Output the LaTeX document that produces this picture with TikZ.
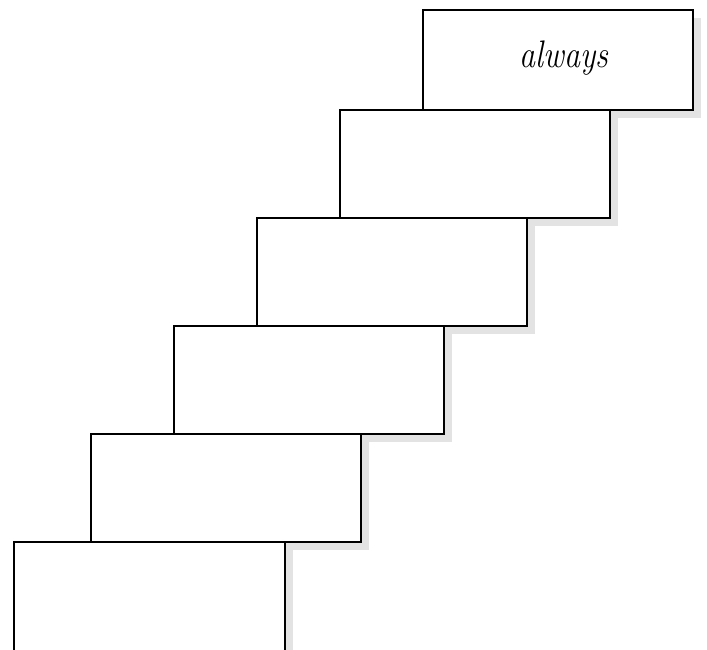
\documentclass[tikz,border=0pt]{standalone}
\begin{document}
\begin{tikzpicture}[x=1pt,y=-1pt,
  stepbox/.style={draw=black,line width=1.4pt,fill=white},
  stepshadow/.style={fill=black!11,draw=none}]
\useasboundingbox (0,0) rectangle (707,649);
\clip (0,0) rectangle (707,649);
\fill[white] (0,0) rectangle (707,649);
% shadows
\foreach \x/\y/\w/\h in {423/10/270/100, 340/110/270/108, 257/218/270/108, 174/326/270/108, 91/434/270/108, 14/542/271/120}{
  \path[stepshadow] (\x+8,\y+8) rectangle ++(\w,\h);
}
% boxes
\path[stepbox] (423,10) rectangle (693,110) node (b1) [midway] {};
\path[stepbox] (340,110) rectangle (610,218) node (b2) [midway] {};
\path[stepbox] (257,218) rectangle (527,326) node (b3) [midway] {};
\path[stepbox] (174,326) rectangle (444,434) node (b4) [midway] {};
\path[stepbox] (91,434) rectangle (361,542) node (b5) [midway] {};
\path[stepbox] (14,542) rectangle (285,662) node (b6) [midway] {};
\node[yscale=1.2] (t1) at (564,58) {\fontsize{32}{36}\selectfont\itshape always};
\end{tikzpicture}
\end{document}
